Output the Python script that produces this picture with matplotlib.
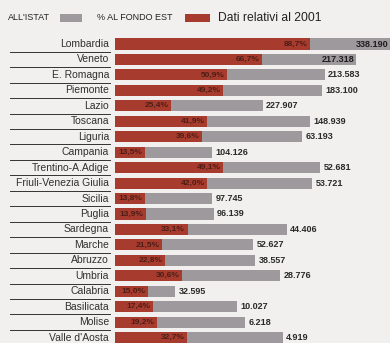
#!/usr/bin/env python3
"""Regional bars: share to fondo EST (red) vs ISTAT remainder (gray), 2001."""

import matplotlib
matplotlib.use("Agg")
import matplotlib.pyplot as plt
from matplotlib.patches import Rectangle

regions = [
    "Lombardia", "Veneto", "E. Romagna", "Piemonte", "Lazio", "Toscana",
    "Liguria", "Campania", "Trentino-A.Adige", "Friuli-Venezia Giulia",
    "Sicilia", "Puglia", "Sardegna", "Marche", "Abruzzo", "Umbria",
    "Calabria", "Basilicata", "Molise", "Valle d'Aosta",
]
# red segment (% al fondo EST)
fondo_pct = [88.7, 66.7, 50.9, 49.2, 25.4, 41.9, 39.6, 13.5, 49.1, 42.0,
             13.8, 13.9, 33.1, 21.5, 22.8, 30.6, 15.0, 17.4, 19.2, 32.7]
# gray segment (all'ISTAT), same scale
istat_len = [40.0, 42.7, 44.5, 45.0, 41.8, 46.8, 45.5, 30.5, 44.1, 47.7,
             30.5, 30.9, 45.0, 41.4, 40.9, 44.5, 12.3, 38.2, 40.0, 43.6]
# absolute numbers printed at the end of each bar
totals = ["338.190", "217.318", "213.583", "183.100", "227.907", "148.939",
          "63.193", "104.126", "52.681", "53.721", "97.745", "96.139",
          "44.406", "52.627", "38.557", "28.776", "32.595", "10.027",
          "6.218", "4.919"]
pct_labels = [f"{v:.1f}%".replace(".", ",") for v in fondo_pct]

RED = "#a63b2e"
GRAY = "#9d999d"
BG = "#f1f0ee"
FONT = ["Liberation Sans", "DejaVu Sans"]

fig = plt.figure(figsize=(3.9, 3.43), dpi=100, facecolor=BG)
ax = fig.add_axes([115 / 390, 0.0, 1 - 115 / 390, (343 - 36.3) / 343])
ax.set_facecolor(BG)
ax.set_xlim(0, 125)
ax.set_ylim(19.35, -0.5)
ax.axis("off")

ys = list(range(len(regions)))
ax.barh(ys, fondo_pct, height=0.72, color=RED, linewidth=0)
ax.barh(ys, istat_len, left=fondo_pct, height=0.72, color=GRAY, linewidth=0)

for i, (p, g) in enumerate(zip(fondo_pct, istat_len)):
    end = p + g
    ax.text(p - 1.2, i, pct_labels[i], ha="right", va="center", fontsize=6,
            fontweight="bold", color="#4e1d16", family=FONT)
    if i < 2:
        # the two longest bars carry the number inside their gray end
        ax.text(min(end, 124.6) - 0.5, i, totals[i], ha="right", va="center",
                fontsize=6.5, fontweight="bold", color="#1e1e1e", family=FONT)
    else:
        ax.text(end + 1.5, i, totals[i], ha="left", va="center", fontsize=6.5,
                fontweight="bold", color="#2a2a2a", family=FONT)

# region names with the thin rules under them
for i, name in enumerate(regions):
    ax.text(-2.7, i, name, ha="right", va="center", fontsize=7.5,
            color="#303030", family=FONT, clip_on=False)
    ax.plot([-47.5, -2.5], [i + 0.5, i + 0.5], color="#333333", lw=0.7,
            clip_on=False)

# legend row
fig.text(8 / 390, 1 - 18 / 343, "ALL'ISTAT", fontsize=6.5, color="#222222",
         family=FONT, va="center")
fig.add_artist(Rectangle((60 / 390, 1 - 22 / 343), 22 / 390, 8 / 343,
                         transform=fig.transFigure, color=GRAY, lw=0))
fig.text(97 / 390, 1 - 18 / 343, "% AL FONDO EST", fontsize=6.5, color="#222222",
         family=FONT, va="center")
fig.add_artist(Rectangle((185 / 390, 1 - 22 / 343), 25 / 390, 8 / 343,
                         transform=fig.transFigure, color=RED, lw=0))
fig.text(218 / 390, 1 - 18 / 343, "Dati relativi al 2001", fontsize=8.7,
         color="#222222", family=FONT, va="center")

fig.savefig("out.png", dpi=100, facecolor=BG)
